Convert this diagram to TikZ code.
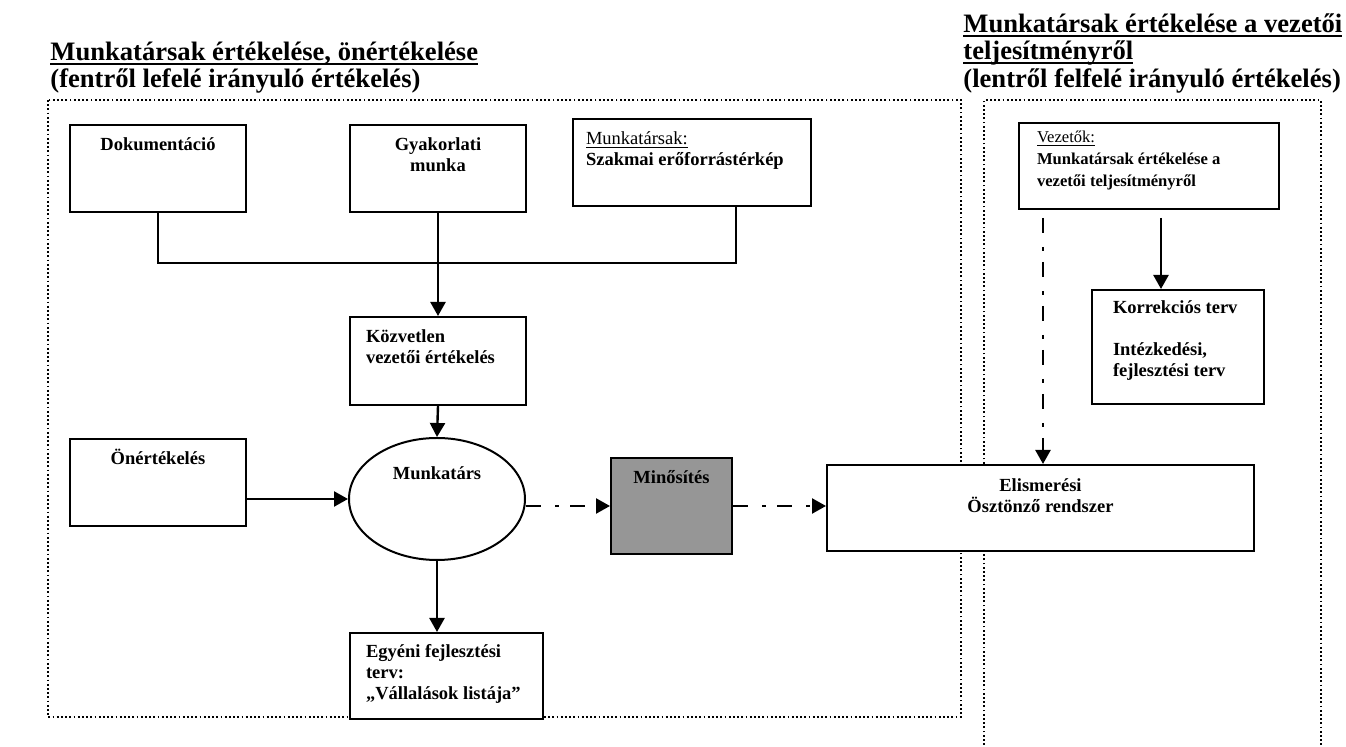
\documentclass[tikz,border=0pt]{standalone}
\usepackage{fontspec}
\setmainfont{Liberation Serif}
\usetikzlibrary{arrows.meta,shapes.geometric}
\definecolor{minfill}{RGB}{150,150,150}
\newcommand\myul[1]{\setbox0=\hbox{#1}\rlap{\rule[-2.1pt]{\wd0}{1pt}}\box0}
\newcommand\myulthin[1]{\setbox0=\hbox{#1}\rlap{\rule[-1.3pt]{\wd0}{0.5pt}}\box0}
\newcommand\titlefont{\fontsize{13.3pt}{14pt}\selectfont\bfseries}
\newcommand\boxfont{\fontsize{9.25pt}{10.5pt}\selectfont\bfseries\lineskiplimit=-20pt\relax}
\newcommand\smallboxfont{\fontsize{8.3pt}{11pt}\selectfont\bfseries\lineskiplimit=-20pt\relax}
\newcommand\ms{\rule{0pt}{8pt}}
% font, width, height, top pad, content
\newcommand\bt[5]{\parbox[c][#3][t]{#2}{#1\vspace*{#4}#5\par}}
\tikzset{
  ttl/.style={anchor=base west, inner sep=0pt, font=\titlefont},
  frame/.style={line width=0.9pt, dash pattern=on 0.9pt off 1.2pt},
  bx/.style={draw, rectangle, line width=1pt, fill=white, inner sep=0pt, anchor=north west},
  ell/.style={draw, ellipse, line width=1pt, fill=white, minimum width=88pt, minimum height=61pt,
              inner sep=0pt, text height=7pt, text depth=26pt, font=\boxfont},
  conn/.style={line width=1.2pt},
  arr/.style={-{Triangle[length=7pt,width=7.5pt]}},
  dd/.style={dash pattern=on 7.5pt off 7pt on 2pt off 5.5pt}
}
\begin{document}
\begin{tikzpicture}[x=0.5pt,y=-0.5pt]
\useasboundingbox (0,0) rectangle (1346,747);

% titles
\node[ttl] (tL1) at (50,61) {\myul{Munkatársak értékelése, önértékelése}};
\node[ttl] (tL2) at (50,88) {(fentről lefelé irányuló értékelés)};
\node[ttl] (tR1) at (963,33) {\myul{Munkatársak értékelése a vezetői}};
\node[ttl] (tR2) at (963,60) {\myul{teljesítményről}};
\node[ttl] (tR3) at (963,88) {(lentről felfelé irányuló értékelés)};

% dotted frames
\draw[frame] (48,100) rectangle (961,717);
\draw[frame] (984,745) -- (984,100) -- (1321,100) -- (1321,745);

% boxes
\node[bx] (dok) at (69,124) {\bt{\boxfont}{88pt}{43.5pt}{5pt}{\centering\ms Dokumentáció}};
\node[bx] (gyak) at (349,124) {\bt{\boxfont}{88pt}{43.5pt}{5pt}{\centering\ms Gyakorlati\\munka}};
\node[bx] (munk) at (572,118) {\bt{\boxfont}{119pt}{43.5pt}{5pt}{\raggedright\leftskip=6.5pt\ms{\mdseries\myulthin{Munkatársak:}}\\Szakmai erőforrástérkép}};
\node[bx] (kozv) at (349,316) {\bt{\boxfont}{88pt}{44pt}{5pt}{\raggedright\leftskip=8pt\ms Közvetlen\\vezetői értékelés}};
\node[bx] (onert) at (69,438) {\bt{\boxfont}{88pt}{43.5pt}{5pt}{\centering\ms Önértékelés}};
\node[ell] (ell) at (437,499) {Munkatárs};
\node[bx, fill=minfill] (min) at (610,457) {\bt{\boxfont}{60.5pt}{48pt}{5pt}{\centering\ms Minősítés}};
\node[bx] (egy) at (349,632) {\bt{\boxfont}{96.5pt}{43pt}{4.5pt}{\raggedright\leftskip=8pt\ms Egyéni fejlesztési\\terv:\\„Vállalások listája”}};
\node[bx] (vez) at (1018,122) {\bt{\smallboxfont}{130pt}{43pt}{2pt}{\raggedright\leftskip=9pt\ms{\mdseries\myulthin{Vezetők:}}\\Munkatársak értékelése a\\vezetői teljesítményről}};
\node[bx] (kor) at (1091,289) {\bt{\boxfont}{86pt}{57pt}{4pt}{\raggedright\leftskip=10.5pt\ms Korrekciós terv\\[10.5pt]Intézkedési,\\fejlesztési terv}};
\node[bx] (elis) at (826,464) {\bt{\boxfont}{213.5pt}{43pt}{5.5pt}{\centering\ms Elismerési\\Ösztönző rendszer}};

% connectors
\coordinate (jR) at (736,263);
\draw[conn] (dok.south) |- (jR) -- (jR |- munk.south);
\draw[conn, arr] (gyak.south) -- (kozv.north);
\draw[conn, arr] (kozv.south) -- (ell.north);
\draw[conn, arr] (onert.east |- ell.west) -- (ell.west);
\draw[conn, arr] (ell.south) -- (ell.south |- egy.north);
\draw[conn, dd, arr] (ell.east |- min.west) -- (min.west);
\draw[conn, dd, arr] (min.east) -- (min.east -| elis.west);
\coordinate (vd) at ([xshift=12.5pt]vez.south west);
\coordinate (vs) at ([xshift=71.5pt]vez.south west);
\draw[conn, dd, arr, shorten <=4pt] (vd) -- (vd |- elis.north);
\draw[conn, arr, shorten <=4pt] (vs) -- (vs |- kor.north);
\end{tikzpicture}
\end{document}
